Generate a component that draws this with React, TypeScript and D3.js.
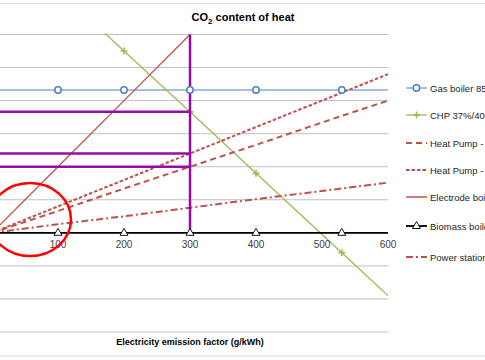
import React from "react";
import * as d3 from "d3";

const emissionFactor = [0, 100, 200, 300, 400, 530, 600];
const gasBoiler = [216, 216, 216, 216, 216, 216, 216];
const chp = [460, 368, 275, 183, 90, -30, -95];
const heatPumpCop3 = [0, 33, 67, 100, 133, 177, 200];
const heatPumpCop25 = [0, 40, 80, 120, 160, 212, 240];
const electrodeX = [0, 100, 200, 300];
const electrode = [0, 100, 200, 300];
const biomass = [0, 0, 0, 0, 0, 0, 0];
const powerStation = [0, 13, 25, 38, 51, 67, 76];
const markerCount = 6; // markers on first six points

const annotationX = 300;
const annotationLevels = [183, 120, 100];

const xTicks = [100, 200, 300, 400, 500, 600];
const yGrid = [300, 250, 200, 150, 100, 50, 0, -50, -100, -150];

const legendNames = [
  "Gas boiler 85%",
  "CHP 37%/40%",
  "Heat Pump - COP 3",
  "Heat Pump - COP 2.5",
  "Electrode boiler",
  "Biomass boiler",
  "Power station",
];

const W = 485;
const H = 360;
const FONT = "'Liberation Sans', Arial, sans-serif";
const RED = "#c0504d";
const GREEN = "#9bbb59";
const BLUE = "#4f81bd";
const PURPLE = "#9a0aa8";

export default function App() {
  const x = d3.scaleLinear().domain([0, 600]).range([-8, 388]);
  const y = d3.scaleLinear().domain([-150, 300]).range([332, 34.5]);
  const line = d3
    .line<[number, number]>()
    .x((d) => x(d[0]))
    .y((d) => y(d[1]));
  const pts = (vals: number[], xs: number[] = emissionFactor) =>
    xs.map((v, i) => [v, vals[i]] as [number, number]);

  const legendY = [88, 115, 143, 170, 197, 226, 257];
  const dashes = [null, null, "6 4", "3.5 2", null, null, "7 3 2 3"];
  const colors = [BLUE, GREEN, RED, RED, RED, "#000", RED];
  const widths = [1, 1.3, 2, 2, 1.5, 1.8, 2];

  const plus = (cx: number, cy: number, k: string) => (
    <g key={k} stroke={GREEN} strokeWidth={1.6}>
      <line x1={cx - 3.5} x2={cx + 3.5} y1={cy} y2={cy} />
      <line x1={cx} x2={cx} y1={cy - 3.5} y2={cy + 3.5} />
    </g>
  );
  const tri = (cx: number, cy: number, k: string) => (
    <path
      key={k}
      d={`M${cx},${cy - 4.5}L${cx + 4},${cy + 2.5}L${cx - 4},${cy + 2.5}Z`}
      fill="#fff"
      stroke="#000"
      strokeWidth={0.9}
    />
  );
  const circ = (cx: number, cy: number, k: string) => (
    <circle key={k} cx={cx} cy={cy} r={3.2} fill="#fff" stroke={BLUE} strokeWidth={1.5} />
  );

  return (
    <svg
      width={W}
      height={H}
      style={{ position: "absolute", left: 0, top: 0, background: "#fff" }}
      fontFamily={FONT}
    >
      <defs>
        <clipPath id="plot">
          <rect x={x(0)} y={y(300) - 1} width={x(600) - x(0)} height={y(-150) - y(300) + 2} />
        </clipPath>
      </defs>
      <rect x={0} y={0} width={W} height={H} fill="#fff" />
      <line x1={0} x2={W} y1={3.5} y2={3.5} stroke="#d9d9d9" strokeWidth={1} />
      <line x1={0} x2={W} y1={356} y2={356} stroke="#d9d9d9" strokeWidth={1} />

      <text x={243} y={21} textAnchor="middle" fontSize={11} fontWeight="bold" fill="#000">
        CO<tspan fontSize={8} dy={2.5}>2</tspan>
        <tspan dy={-2.5}> content of heat</tspan>
      </text>

      {yGrid.map((v) => (
        <line key={v} x1={x(0)} x2={x(600)} y1={y(v)} y2={y(v)} stroke="#bfbfbf" strokeWidth={1} />
      ))}

      <g clipPath="url(#plot)" fill="none">
        <path d={line(pts(gasBoiler))!} stroke={BLUE} strokeWidth={1} />
        <path d={line(pts(chp))!} stroke={GREEN} strokeWidth={1.3} />
        <path d={line(pts(heatPumpCop3))!} stroke={RED} strokeWidth={2} strokeDasharray="6 4" />
        <path d={line(pts(heatPumpCop25))!} stroke={RED} strokeWidth={2} strokeDasharray="3.5 2" />
        <path d={line(pts(powerStation))!} stroke={RED} strokeWidth={2} strokeDasharray="7 3 2 3" />
        <path d={line(pts(electrode, electrodeX))!} stroke={RED} strokeWidth={1.3} />
        <path d={line(pts(biomass))!} stroke="#000" strokeWidth={1.8} />
      </g>

      <g clipPath="url(#plot)">
        {emissionFactor.slice(0, markerCount).map((v, i) => plus(x(v), y(chp[i]), "c" + i))}
      </g>

      {annotationLevels.map((v) => (
        <line key={v} x1={x(0)} x2={x(annotationX)} y1={y(v)} y2={y(v)} stroke={PURPLE} strokeWidth={2.5} />
      ))}
      <line x1={x(annotationX)} x2={x(annotationX)} y1={y(300)} y2={y(0)} stroke={PURPLE} strokeWidth={2.5} />

      <g clipPath="url(#plot)">
        {emissionFactor.slice(0, markerCount).map((v, i) => circ(x(v), y(gasBoiler[i]), "g" + i))}
        {emissionFactor.slice(0, markerCount).map((v, i) => tri(x(v), y(biomass[i]), "b" + i))}
      </g>

      {xTicks.map((t) => (
        <text key={t} x={x(t)} y={248} textAnchor="middle" fontSize={10} fill="#404040">
          {t}
        </text>
      ))}

      <ellipse cx={30} cy={219.5} rx={41} ry={36.5} fill="none" stroke="#ff0000" strokeWidth={2.5} />

      <text x={190} y={345} textAnchor="middle" fontSize={9} fontWeight="bold" fill="#000">
        Electricity emission factor (g/kWh)
      </text>

      {legendNames.map((name, i) => {
        const ly = legendY[i];
        return (
          <g key={name}>
            <line
              x1={406}
              x2={427}
              y1={ly}
              y2={ly}
              stroke={colors[i]}
              strokeWidth={widths[i]}
              strokeDasharray={dashes[i] ?? undefined}
            />
            {i === 0 && circ(416.5, ly, "lg")}
            {i === 1 && plus(416.5, ly, "lc")}
            {i === 5 && tri(416.5, ly, "lb")}
            <text x={430} y={ly + 3.5} fontSize={9.5} fill="#262626">
              {name}
            </text>
          </g>
        );
      })}
    </svg>
  );
}
